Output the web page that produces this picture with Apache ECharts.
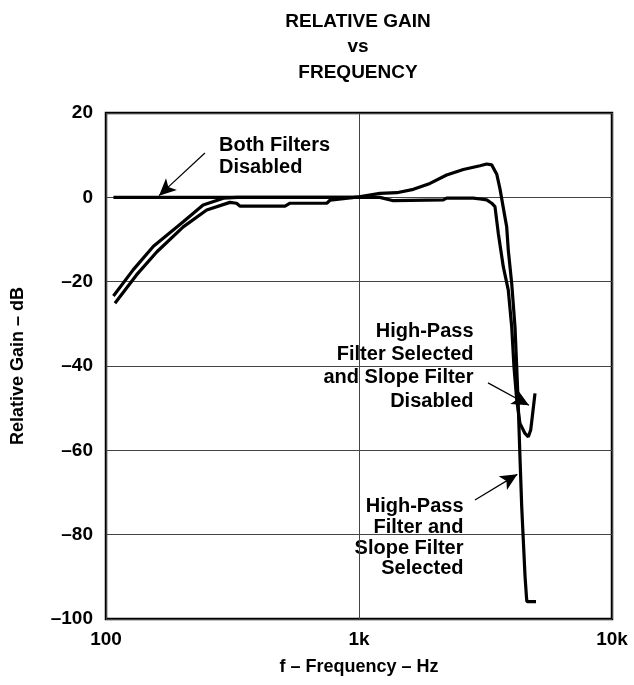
<!DOCTYPE html>
<html>
<head>
<meta charset="utf-8">
<script src="https://cdn.jsdelivr.net/npm/echarts@6/dist/echarts.min.js"></script>
<style>
html,body{margin:0;padding:0;background:#fff;}
#chart{width:634px;height:685px;}
</style>
</head>
<body>
<div id="chart"></div>
<script>
// ---- data (frequency in Hz, relative gain in dB) ----
var xTickLabels = {100: '100', 1000: '1k', 10000: '10k'};
var yTicks = [-100, -80, -60, -40, -20, 0, 20];

// Both filters disabled
var freqD = [107, 1000];
var gainD = [0, 0];

// High-pass filter selected, slope filter disabled
var freqH = [107, 128, 154, 202, 242, 291, 330, 1000, 1210, 1367, 2154, 2220, 2830, 3008, 3198, 3346, 3447, 3552, 3719, 3891, 4014, 4098, 4201, 4327, 4530, 4670, 4771, 4859, 4962];
var gainH = [-23.4, -17.2, -11.6, -5.8, -1.8, -0.2, 0, 0, 0, -0.8, -0.6, -0.2, -0.2, -0.4, -0.6, -1.4, -2.2, -8.5, -16.5, -22, -30.7, -40.2, -48, -53.6, -56, -56.8, -55.2, -51.2, -46.5];

// High-pass filter and slope filter selected
var freqS = [108.5, 132, 159, 202, 250, 309, 328, 339, 510, 534, 746, 768, 1000, 1210, 1410, 1640, 1908, 2220, 2584, 3008, 3198, 3346, 3503, 3608, 3719, 3835, 3891, 4014, 4136, 4201, 4263, 4327, 4397, 4461, 4530, 4590, 4610, 5006];
var gainS = [-25.1, -18.4, -12.9, -7.0, -3.0, -1.2, -1.4, -2.1, -2.1, -1.4, -1.4, -0.7, 0.1, 0.95, 1.1, 1.9, 3.3, 5.3, 6.6, 7.5, 7.9, 7.7, 5.5, 2.0, -2.5, -7, -12.5, -20.4, -30.7, -40.2, -49.7, -61.5, -73.4, -81.3, -89.7, -94.7, -95.9, -95.9];

// annotation arrows: [tailFreq, tailGain, tipFreq, tipGain]
var arrowBoth = [246, 10.5, 162, 0.4];
var arrowHP = [3235, -44, 4698, -49.3];
var arrowHPS = [2873, -71.8, 4225, -65.7];

function pairs(xs, ys) { return xs.map(function (x, i) { return [x, ys[i]]; }); }

var FONT = '"Liberation Sans", Arial, Helvetica, sans-serif';
var lineStyleCurve = {color: '#000', width: 3.2};

function arrowLine(a) {
  return [{coord: [a[0], a[1]]}, {coord: [a[2], a[3]]}];
}

var chart = echarts.init(document.getElementById('chart'), null, {renderer: 'canvas'});
chart.setOption({
  animation: false,
  backgroundColor: '#fff',
  grid: {left: 106, right: 22, top: 113, bottom: 66, show: true, borderColor: '#000', borderWidth: 2.5, backgroundColor: 'transparent'},
  xAxis: {
    type: 'log', logBase: 10, min: 100, max: 10000,
    name: 'f – Frequency – Hz', nameLocation: 'middle', nameGap: 39,
    nameTextStyle: {fontFamily: FONT, fontWeight: 'bold', fontSize: 18, color: '#000'},
    axisLine: {show: false}, axisTick: {show: false}, minorTick: {show: false},
    splitLine: {show: true, lineStyle: {color: '#444', width: 1}},
    axisLabel: {
      margin: 11, fontFamily: FONT, fontWeight: 'bold', fontSize: 19, color: '#000',
      formatter: function (v) { return xTickLabels[Math.round(v)] || ''; }
    }
  },
  yAxis: {
    type: 'value', min: -100, max: 20, interval: 20,
    name: 'Relative Gain – dB', nameLocation: 'middle', nameGap: 79, nameRotate: 90,
    nameTextStyle: {fontFamily: FONT, fontWeight: 'bold', fontSize: 18, color: '#000'},
    axisLine: {show: false}, axisTick: {show: false},
    splitLine: {show: true, lineStyle: {color: '#444', width: 1}},
    axisLabel: {
      margin: 13, fontFamily: FONT, fontWeight: 'bold', fontSize: 19, color: '#000',
      formatter: function (v) { return v < 0 ? '–' + Math.abs(v) : String(v); }
    }
  },
  series: [
    {
      name: 'Both Filters Disabled', type: 'line', data: pairs(freqD, gainD),
      showSymbol: false, symbol: 'none', lineStyle: lineStyleCurve, z: 3,
      markLine: {
        silent: true, symbol: ['none', 'arrow'], symbolSize: [12, 17],
        label: {show: false},
        lineStyle: {color: '#000', width: 1.2, type: 'solid'},
        data: [arrowLine(arrowBoth), arrowLine(arrowHP), arrowLine(arrowHPS)]
      }
    },
    {
      name: 'High-Pass Filter Selected and Slope Filter Disabled', type: 'line', data: pairs(freqH, gainH),
      showSymbol: false, symbol: 'none', lineStyle: lineStyleCurve, z: 3
    },
    {
      name: 'High-Pass Filter and Slope Filter Selected', type: 'line', data: pairs(freqS, gainS),
      showSymbol: false, symbol: 'none', lineStyle: lineStyleCurve, z: 3
    }
  ],
  graphic: [
    {type: 'text', x: 358, y: 9, style: {text: 'RELATIVE GAIN\nvs\nFREQUENCY', textAlign: 'center', fontFamily: FONT, fontWeight: 'bold', fontSize: 19, lineHeight: 25.5, fill: '#000'}},
    {type: 'text', x: 219, y: 134.5, style: {text: 'Both Filters\nDisabled', textAlign: 'left', fontFamily: FONT, fontWeight: 'bold', fontSize: 20, lineHeight: 21.7, fill: '#000'}},
    {type: 'text', x: 473.5, y: 319.5, style: {text: 'High-Pass\nFilter Selected\nand Slope Filter\nDisabled', textAlign: 'right', fontFamily: FONT, fontWeight: 'bold', fontSize: 20, lineHeight: 23.3, fill: '#000'}},
    {type: 'text', x: 463.5, y: 496, style: {text: 'High-Pass\nFilter and\nSlope Filter\nSelected', textAlign: 'right', fontFamily: FONT, fontWeight: 'bold', fontSize: 20, lineHeight: 20.8, fill: '#000'}}
  ]
});
</script>
</body>
</html>
